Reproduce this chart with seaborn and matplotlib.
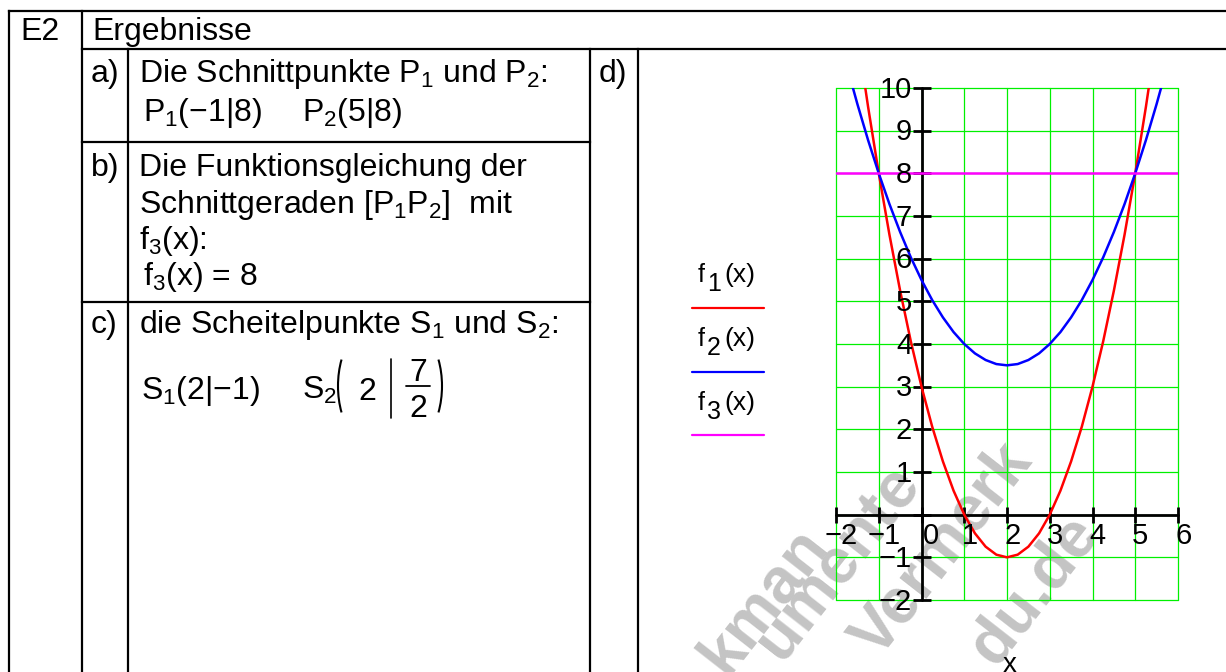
import matplotlib
matplotlib.use("Agg")
import matplotlib.pyplot as plt
from matplotlib.patches import Arc
import pandas as pd
import seaborn as sns

# ---------------- data ----------------
x_f1 = [-1.5, -1.25, -1.0, -0.75, -0.5, -0.25, 0.0, 0.25, 0.5, 0.75, 1.0, 1.25, 1.5, 1.75, 2.0,
        2.25, 2.5, 2.75, 3.0, 3.25, 3.5, 3.75, 4.0, 4.25, 4.5, 4.75, 5.0, 5.25, 5.5]
y_f1 = [11.25, 9.5625, 8.0, 6.5625, 5.25, 4.0625, 3.0, 2.0625, 1.25, 0.5625, 0.0, -0.4375, -0.75, -0.9375, -1.0,
        -0.9375, -0.75, -0.4375, 0.0, 0.5625, 1.25, 2.0625, 3.0, 4.0625, 5.25, 6.5625, 8.0, 9.5625, 11.25]
x_f2 = [-1.75, -1.5, -1.25, -1.0, -0.75, -0.5, -0.25, 0.0, 0.25, 0.5, 0.75, 1.0, 1.25, 1.5, 1.75, 2.0,
        2.25, 2.5, 2.75, 3.0, 3.25, 3.5, 3.75, 4.0, 4.25, 4.5, 4.75, 5.0, 5.25, 5.5, 5.75]
y_f2 = [10.53, 9.625, 8.78, 8.0, 7.28, 6.625, 6.03, 5.5, 5.03, 4.625, 4.28, 4.0, 3.78, 3.625, 3.53, 3.5,
        3.53, 3.625, 3.78, 4.0, 4.28, 4.625, 5.03, 5.5, 6.03, 6.625, 7.28, 8.0, 8.78, 9.625, 10.53]
x_f3 = [-2.0, 6.0]
y_f3 = [8.0, 8.0]

series_names = ["f1", "f2", "f3"]
series_subs = ["1", "2", "3"]
series_colors = ["#ff0000", "#0000ff", "#ff00ff"]

x_ticks = [-2, -1, 0, 1, 2, 3, 4, 5, 6]
y_ticks = [-2, -1, 1, 2, 3, 4, 5, 6, 7, 8, 9, 10]
grid_y = [-2, -1, 0, 1, 2, 3, 4, 5, 6, 7, 8, 9, 10]

table_texts = [
    (20, 40, "E2"), (92, 40, "Ergebnisse"),
    (91, 82, "a)"), (139, 82, "Die Schnittpunkte P$_1$ und P$_2$:"),
    (143, 121, "P$_1$(−1|8)"), (302, 121, "P$_2$(5|8)"),
    (599, 82, "d)"),
    (91, 176, "b)"), (139, 176, "Die Funktionsgleichung der"),
    (139, 213, "Schnittgeraden [P$_1$P$_2$]  mit"),
    (139, 249, "f$_3$(x):"),
    (143, 285, "f$_3$(x) = 8"),
    (91, 333, "c)"), (139, 333, "die Scheitelpunkte S$_1$ und S$_2$:"),
    (141, 399, "S$_1$(2|−1)"),
    (302, 399, "S$_2$"),
]
frac_num, frac_den, s2_x = "7", "2", "2"
watermark = [("kman", 764, 600), ("umente", 838, 563), ("Vermerk", 942, 550), ("du.de", 1034, 590)]

# ---------------- style ----------------
sns.set_theme(style="white")
plt.rcParams['font.family'] = ['Liberation Sans', 'DejaVu Sans']
plt.rcParams['mathtext.fontset'] = 'custom'
plt.rcParams['mathtext.rm'] = 'Liberation Sans'
plt.rcParams['mathtext.it'] = 'Liberation Sans:italic'
plt.rcParams['mathtext.bf'] = 'Liberation Sans:bold'

W, H = 1226, 672
fig = plt.figure(figsize=(W / 100, H / 100), dpi=100)
fig.patch.set_facecolor("white")

bg = fig.add_axes([0, 0, 1, 1])
bg.set_xlim(0, W)
bg.set_ylim(H, 0)
bg.axis("off")

# watermark
for txt, cx, cy in watermark:
    bg.text(cx, cy, txt, rotation=52, rotation_mode="anchor", ha="center", va="center",
            fontsize=46, fontweight="bold", color="#c4c4c4", zorder=0)

# table lines
LW = 1.6
def hline(y, x0, x1):
    bg.plot([x0, x1], [y, y], color="black", lw=LW, solid_capstyle="projecting")
def vline(x, y0, y1):
    bg.plot([x, x], [y0, y1], color="black", lw=LW, solid_capstyle="projecting")

hline(11, 9, W)
vline(9, 11, H)
vline(82, 11, H)
hline(49, 82, W)
vline(128, 49, H)
vline(590, 49, H)
vline(638, 49, H)
hline(142, 82, 590)
hline(302, 82, 590)

FS = 23
for x, y, t in table_texts:
    bg.text(x, y, t, ha="left", va="baseline", fontsize=FS, color="black")

# S2 ( 2 | 7/2 ) with tall parentheses
bg.add_patch(Arc((368, 386), 60, 112, theta1=135, theta2=225, color="black", lw=1.5))
bg.add_patch(Arc((412, 386), 60, 112, theta1=-45, theta2=45, color="black", lw=1.5))
bg.text(358, 400, s2_x, ha="left", va="baseline", fontsize=FS, color="black")
bg.plot([391, 391], [359, 418], color="black", lw=1.2)
bg.text(418, 381, frac_num, ha="center", va="baseline", fontsize=FS, color="black")
bg.plot([406, 430], [386, 386], color="black", lw=1.3)
bg.text(418, 417, frac_den, ha="center", va="baseline", fontsize=FS, color="black")

# legend (Mathcad style: big, lowered subscripts)
leg_base = [282, 346, 410]
leg_line = [308, 372, 435]
LFS = 18
for sub, col, yb, yl in zip(series_subs, series_colors, leg_base, leg_line):
    bg.text(698, yb, "f", ha="left", va="baseline", fontsize=LFS, color="black")
    bg.text(707, yb + 9, sub, ha="left", va="baseline", fontsize=LFS, color="black")
    bg.text(724, yb, "(x)", ha="left", va="baseline", fontsize=LFS + 1, color="black")
    bg.plot([692, 764], [yl, yl], color=col, lw=1.6)

bg.text(1010, 672, "x", ha="center", va="baseline", fontsize=20, color="black")

# ---------------- plot ----------------
L, R, T, B = 836, 1178, 88, 600
ax = fig.add_axes([L / W, 1 - B / H, (R - L) / W, (B - T) / H])
ax.set_xlim(-2, 6)
ax.set_ylim(-2, 10)
ax.patch.set_alpha(0)
ax.axis("off")

GREEN = "#00f000"
for v in x_ticks:
    ax.axvline(v, color=GREEN, lw=0.9, zorder=1, clip_on=False)
for v in grid_y:
    ax.axhline(v, color=GREEN, lw=0.9, zorder=1, clip_on=False)

ax.axhline(0, color="black", lw=2.0, zorder=2, clip_on=False)
ax.axvline(0, color="black", lw=2.0, zorder=2, clip_on=False)
ax.plot(x_ticks, [0] * len(x_ticks), ls="none", marker="|", ms=11, mew=2, color="black", clip_on=False, zorder=3)
ax.plot([0] * len(y_ticks), y_ticks, ls="none", marker="_", ms=13, mew=2, color="black", clip_on=False, zorder=3)
ax.plot([0], [0], ls="none", marker="_", ms=13, mew=2, color="black", clip_on=False, zorder=3)

df = pd.concat([
    pd.DataFrame({"x": x_f1, "y": y_f1, "f": series_names[0]}),
    pd.DataFrame({"x": x_f2, "y": y_f2, "f": series_names[1]}),
    pd.DataFrame({"x": x_f3, "y": y_f3, "f": series_names[2]}),
], ignore_index=True)
sns.lineplot(data=df, x="x", y="y", hue="f", palette=dict(zip(series_names, series_colors)),
             sort=False, estimator=None, legend=False, lw=1.8, ax=ax, zorder=4)

TFS = 21
for v in x_ticks:
    lab = str(v).replace("-", "−")
    dx = 0.22 if v == 0 else 0.12
    ax.text(v + dx, -0.5, lab, ha="center", va="center", fontsize=TFS, color="black", zorder=5)
for v in y_ticks:
    lab = str(v).replace("-", "−")
    ax.text(-0.22, v - 0.04, lab, ha="right", va="center", fontsize=TFS, color="black", zorder=5)

fig.savefig("out.png", dpi=100)
